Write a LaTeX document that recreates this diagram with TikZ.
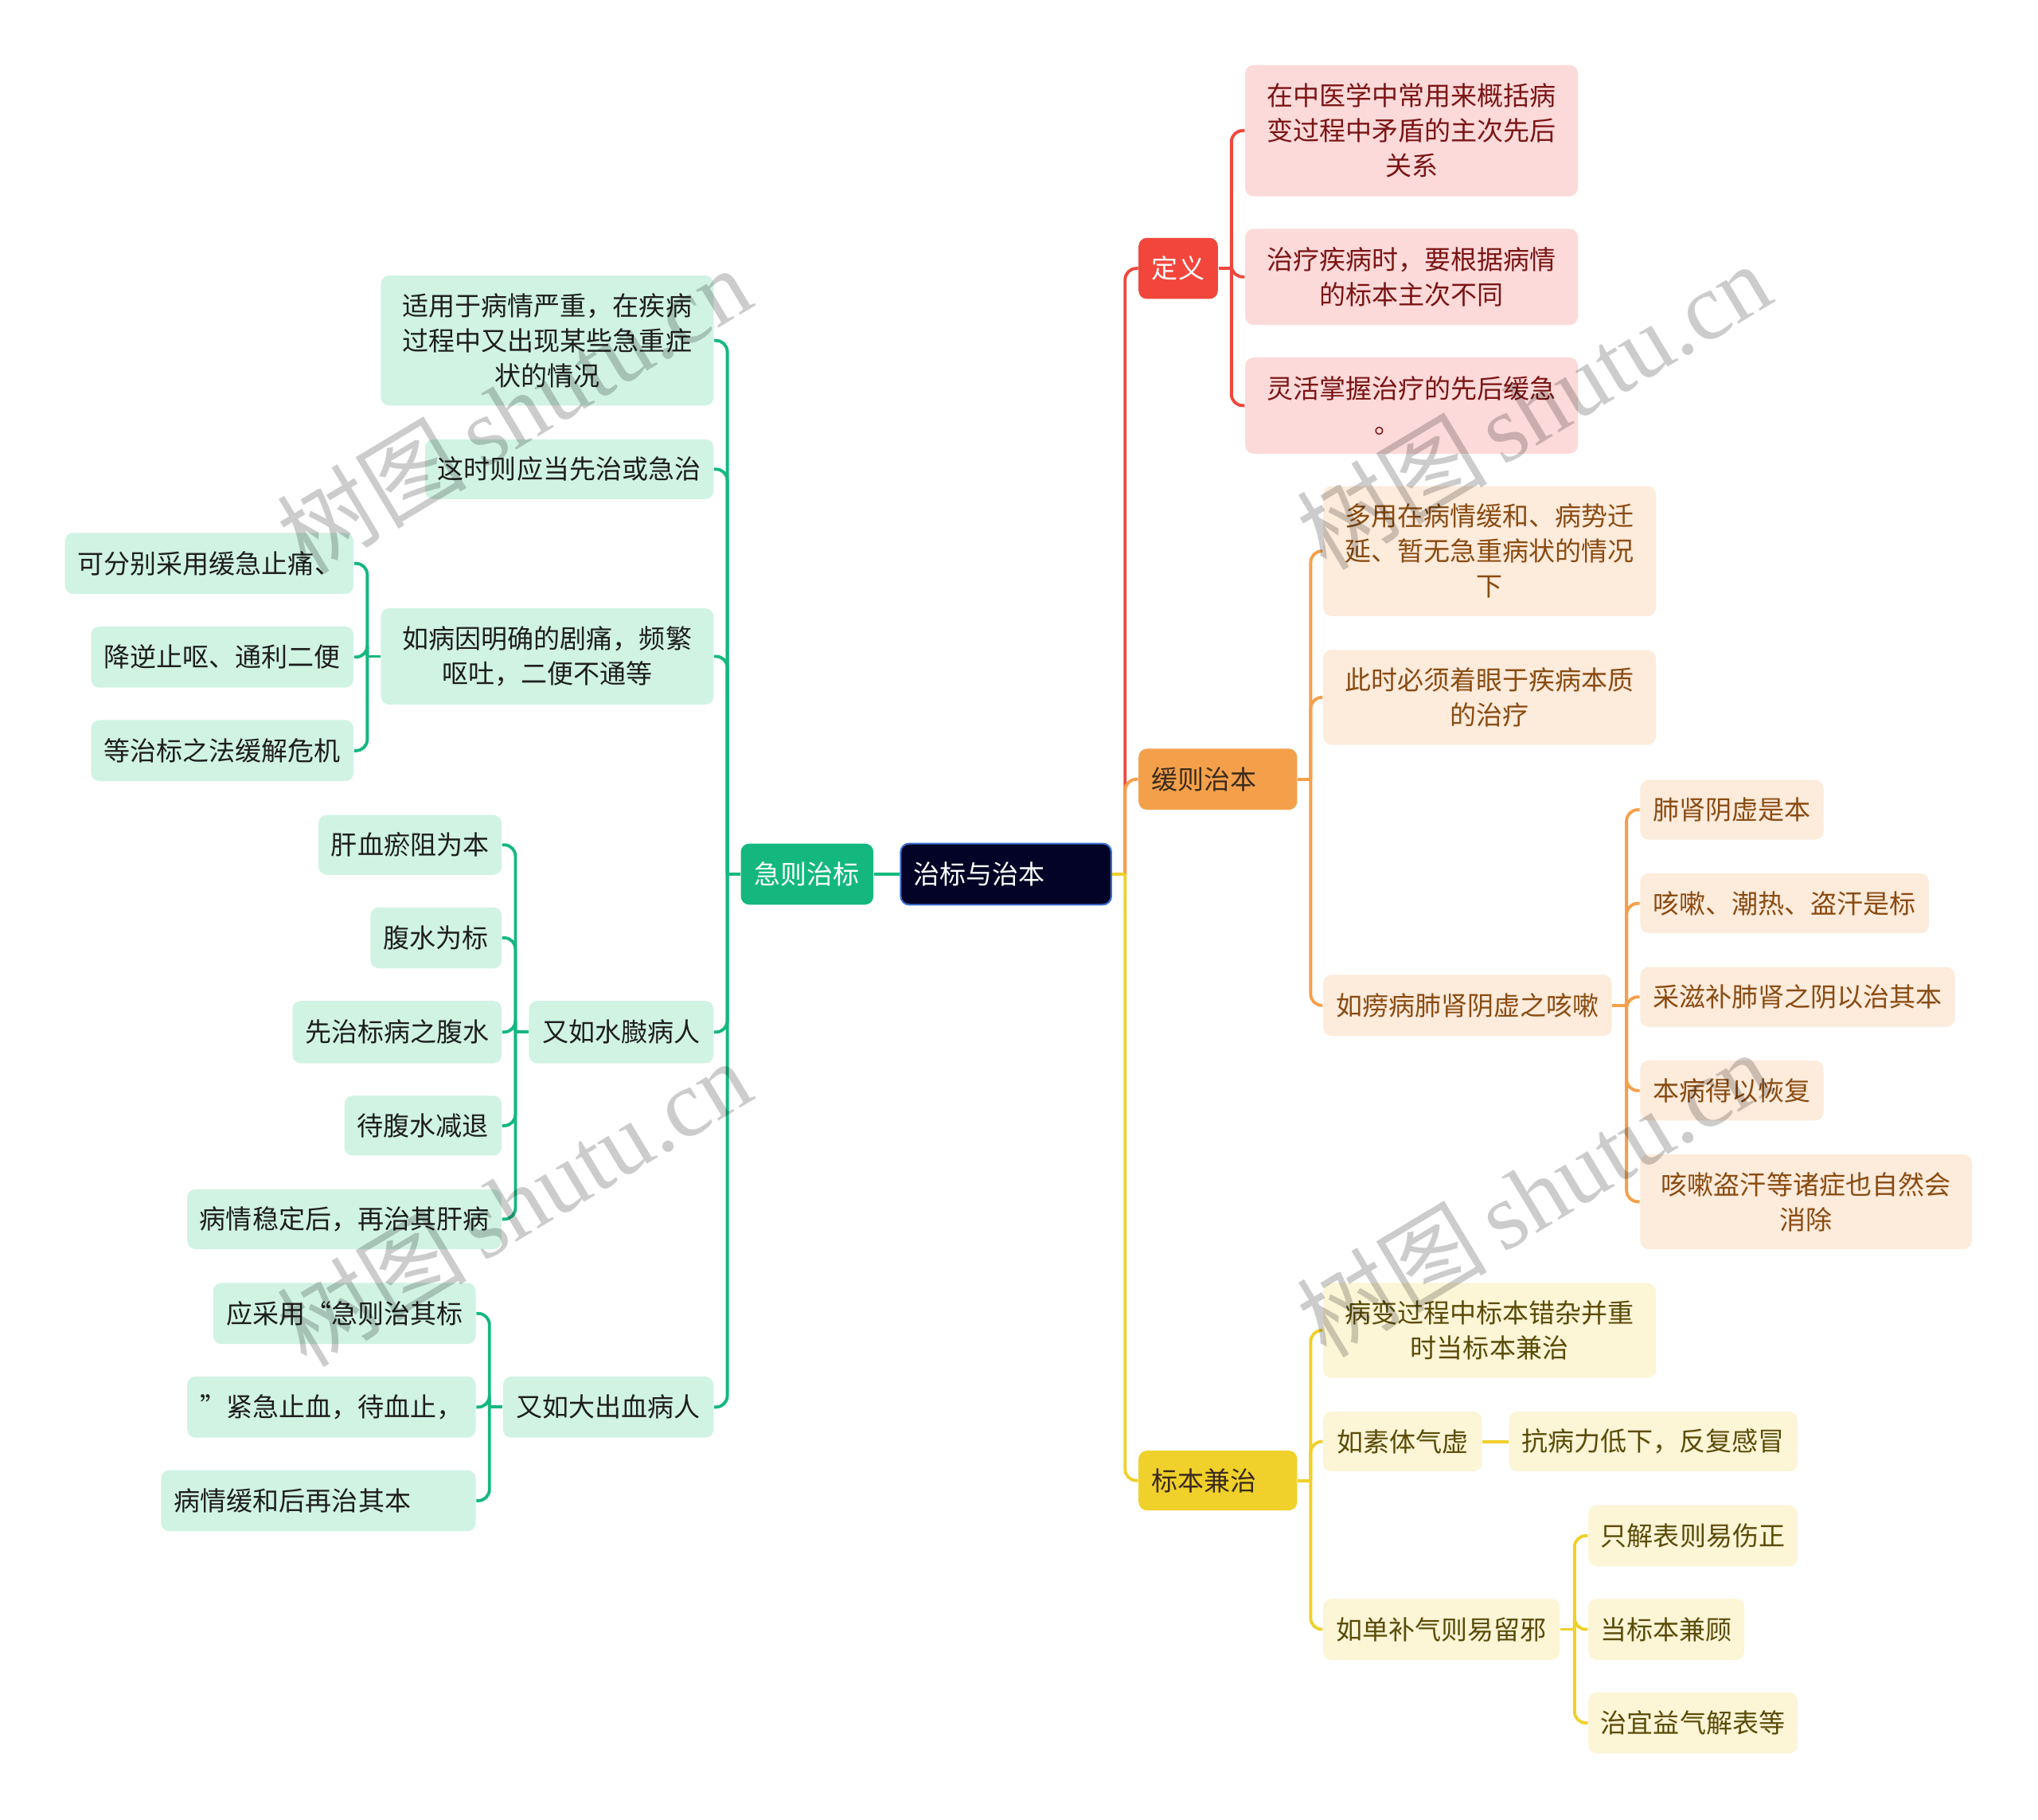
\documentclass[tikz,border=0pt]{standalone}
\usepackage{fontspec}
\setmainfont{Noto Sans CJK SC}
\newfontfamily\wmlat{Liberation Serif}
\newfontfamily\wmcjk{Noto Sans CJK SC}
\definecolor{rootc}{HTML}{020326}
\definecolor{rootb}{HTML}{3A6FD0}
\definecolor{cgreen}{HTML}{14B87E}
\definecolor{cred}{HTML}{F2463C}
\definecolor{corange}{HTML}{F4A04B}
\definecolor{cyellow}{HTML}{F0D02A}
\definecolor{fmint}{HTML}{D0F3E4}
\definecolor{fpink}{HTML}{FDDADA}
\definecolor{fpeach}{HTML}{FDEBDB}
\definecolor{fcream}{HTML}{FCF5D6}
\definecolor{tmint}{HTML}{1E1E1E}
\definecolor{tpink}{HTML}{7B1515}
\definecolor{tpeach}{HTML}{8A4B12}
\definecolor{tcream}{HTML}{5B4B08}
\definecolor{tmain}{HTML}{3B2B1B}
\newcommand\myfs{\fontsize{9.4pt}{12.5pt}\selectfont}
\begin{document}
\begin{tikzpicture}[x=0.016327cm,y=-0.016327cm,
  nd/.style={rounded corners=3pt, inner sep=0pt, align=center, font=\myfs},
  sz/.style 2 args={minimum width=#1*0.016327cm, minimum height=#2*0.016327cm},
  lft/.style={align=left, text width=#1*0.016327cm, inner xsep=0.163cm},
  mint/.style={nd, fill=fmint, text=tmint},
  pink/.style={nd, fill=fpink, text=tpink},
  peach/.style={nd, fill=fpeach, text=tpeach},
  cream/.style={nd, fill=fcream, text=tcream},
  cG/.style={draw=cgreen, line width=1.1pt, rounded corners=4pt},
  cR/.style={draw=cred, line width=1.1pt, rounded corners=4pt},
  cO/.style={draw=corange, line width=1.1pt, rounded corners=4pt},
  cY/.style={draw=cyellow, line width=1.1pt, rounded corners=4pt},
  wm/.style={rotate=31, text=black, opacity=0.2, inner sep=0pt}
]
\useasboundingbox (0,0) rectangle (1568,1400);

% ---------- nodes ----------
\node[nd, sz={162}{47}, lft=142, fill=rootc, draw=rootb, line width=0.6pt, text=white] (root) at (774,672.5) {治标与治本};
\node[nd, sz={102}{47}, fill=cgreen, text=white] (ji) at (621,672.5) {急则治标};
\node[nd, sz={61}{47}, fill=cred, text=white] (dy) at (906.5,206.5) {定义};
\node[nd, sz={122}{47}, lft=102, fill=corange, text=tmain] (hz) at (937,599.5) {缓则治本};
\node[nd, sz={122}{46}, lft=102, fill=cyellow, text=tmain] (bj) at (937,1139) {标本兼治};

% definition
\node[pink, sz={256}{101}] (d1) at (1086,100.5) {在中医学中常用来概括病\\变过程中矛盾的主次先后\\关系};
\node[pink, sz={256}{74}] (d2) at (1086,213) {治疗疾病时，要根据病情\\的标本主次不同};
\node[pink, sz={256}{74}] (d3) at (1086,312) {灵活掌握治疗的先后缓急\\。\hspace*{1.8em}};

% 缓则治本
\node[peach, sz={256}{100}] (h1) at (1146,424) {多用在病情缓和、病势迁\\延、暂无急重病状的情况\\下};
\node[peach, sz={256}{73}] (h2) at (1146,536.5) {此时必须着眼于疾病本质\\的治疗};
\node[peach, sz={222}{47}] (h3) at (1129,773.5) {如痨病肺肾阴虚之咳嗽};
\node[peach, sz={141}{46}] (h3a) at (1332.5,623) {肺肾阴虚是本};
\node[peach, sz={222}{46}] (h3b) at (1373,695) {咳嗽、潮热、盗汗是标};
\node[peach, sz={242}{46}] (h3c) at (1383,767) {采滋补肺肾之阴以治其本};
\node[peach, sz={141}{46}] (h3d) at (1332.5,839) {本病得以恢复};
\node[peach, sz={255}{73}] (h3e) at (1389.5,924.5) {咳嗽盗汗等诸症也自然会\\消除};

% 标本兼治
\node[cream, sz={256}{73}] (b1) at (1146,1023.5) {病变过程中标本错杂并重\\时当标本兼治};
\node[cream, sz={122}{46}] (b2) at (1079,1109) {如素体气虚};
\node[cream, sz={222}{46}] (b2a) at (1272,1109) {抗病力低下，反复感冒};
\node[cream, sz={182}{47}] (b3) at (1109,1253.5) {如单补气则易留邪};
\node[cream, sz={161}{47}] (b3a) at (1302.5,1181.5) {只解表则易伤正};
\node[cream, sz={120}{47}] (b3b) at (1282,1253.5) {当标本兼顾};
\node[cream, sz={161}{47}] (b3c) at (1302.5,1325.5) {治宜益气解表等};

% 急则治标
\node[mint, sz={256}{100}] (j1) at (421,262) {适用于病情严重，在疾病\\过程中又出现某些急重症\\状的情况};
\node[mint, sz={222}{46}] (j2) at (438,361) {这时则应当先治或急治};
\node[mint, sz={256}{74}] (j3) at (421,505) {如病因明确的剧痛，频繁\\呕吐，二便不通等};
\node[mint, sz={222}{47}] (j3a) at (161,433.5) {可分别采用缓急止痛、};
\node[mint, sz={202}{47}] (j3b) at (171,505.5) {降逆止呕、通利二便};
\node[mint, sz={202}{47}] (j3c) at (171,577.5) {等治标之法缓解危机};
\node[mint, sz={142}{48}] (j4) at (478,794) {又如水臌病人};
\node[mint, sz={141}{46}] (j4a) at (315.5,650) {肝血瘀阻为本};
\node[mint, sz={101}{47}] (j4b) at (335.5,721.5) {腹水为标};
\node[mint, sz={161}{48}] (j4c) at (305.5,794) {先治标病之腹水};
\node[mint, sz={121}{46}] (j4d) at (325.5,866) {待腹水减退};
\node[mint, sz={242}{46}] (j4e) at (265,938) {病情稳定后，再治其肝病};
\node[mint, sz={162}{47}] (j5) at (468,1082.5) {又如大出血病人};
\node[mint, sz={202}{47}, lft=182] (j5a) at (265,1010.5) {应采用“急则治其标};
\node[mint, sz={222}{47}, lft=202] (j5b) at (255,1082.5) {”紧急止血，待血止，};
\node[mint, sz={242}{47}, lft=222] (j5c) at (245,1154.5) {病情缓和后再治其本};

% ---------- connectors ----------
\draw[cG] (root.west) -- (ji.east);
\draw[cR] (root.east) -- ++(10,0) coordinate (rj);
\draw[cR] (rj) |- (dy.west);
\draw[cO] (rj) |- (hz.west);
\draw[cY] (rj) |- (bj.west);
\draw[cY] (root.east) -- (rj);

\draw[cR] (dy.east) -- ++(10,0) coordinate (dyj);
\foreach \c in {d1,d2,d3} \draw[cR] (dyj) |- (\c.west);

\draw[cO] (hz.east) -- ++(10,0) coordinate (hzj);
\foreach \c in {h1,h2,h3} \draw[cO] (hzj) |- (\c.west);
\draw[cO] (h3.east) -- ++(11,0) coordinate (h3j);
\foreach \c in {h3a,h3b,h3c,h3d,h3e} \draw[cO] (h3j) |- (\c.west);

\draw[cY] (bj.east) -- ++(10,0) coordinate (bjj);
\foreach \c in {b1,b2,b3} \draw[cY] (bjj) |- (\c.west);
\draw[cY] (b2.east) -- (b2a.west);
\draw[cY] (b3.east) -- ++(11,0) coordinate (b3j);
\foreach \c in {b3a,b3b,b3c} \draw[cY] (b3j) |- (\c.west);

\draw[cG] (ji.west) -- ++(-10,0) coordinate (jij);
\foreach \c in {j1,j2,j3,j4,j5} \draw[cG] (jij) |- (\c.east);
\draw[cG] (j3.west) -- ++(-10,0) coordinate (j3j);
\foreach \c in {j3a,j3b,j3c} \draw[cG] (j3j) |- (\c.east);
\draw[cG] (j4.west) -- ++(-10,0) coordinate (j4j);
\foreach \c in {j4a,j4b,j4c,j4d,j4e} \draw[cG] (j4j) |- (\c.east);
\draw[cG] (j5.west) -- ++(-10,0) coordinate (j5j);
\foreach \c in {j5a,j5b,j5c} \draw[cG] (j5j) |- (\c.east);

% ---------- watermarks ----------
\foreach \n/\p in {w1/{(395,315)}, w2/{(1180,312)}, w3/{(395,925)}, w4/{(1180,918)}}
  \node[wm] (\n) at \p {\fontsize{34pt}{36pt}\selectfont\wmcjk 树图\,\wmlat shutu.cn};
\end{tikzpicture}
\end{document}
